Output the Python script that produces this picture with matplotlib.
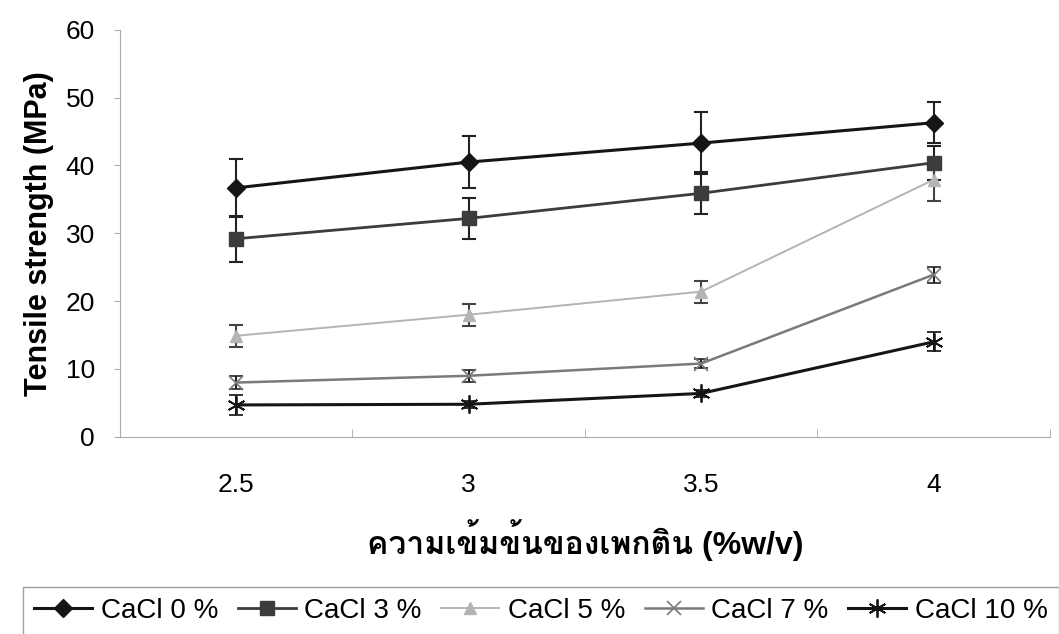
import numpy as np
import matplotlib
matplotlib.use("Agg")
import matplotlib.pyplot as plt
from matplotlib import font_manager
from matplotlib.ft2font import FT2Font

# data
pectin = ["2.5", "3", "3.5", "4"]
series_names = ["CaCl 0 %", "CaCl 3 %", "CaCl 5 %", "CaCl 7 %", "CaCl 10 %"]
ts_0 = [36.7, 40.5, 43.3, 46.3]
ts_3 = [29.2, 32.2, 35.9, 40.4]
ts_5 = [14.9, 18.0, 21.4, 37.9]
ts_7 = [8.0, 9.0, 10.8, 23.9]
ts_10 = [4.7, 4.8, 6.4, 14.0]
err_0 = [4.3, 3.8, 4.6, 3.0]
err_3 = [3.4, 3.0, 3.1, 2.5]
err_5 = [1.6, 1.6, 1.6, 3.2]
err_7 = [1.0, 0.9, 0.6, 1.2]
err_10 = [1.5, 0.5, 0.5, 1.4]


def find_thai_font():
    for f in font_manager.fontManager.ttflist:
        try:
            if ord('ค') in FT2Font(f.fname).get_charmap():
                return f.name
        except Exception:
            pass
    return None


thai = find_thai_font()
fams = ['Liberation Sans'] + ([thai] if thai else []) + ['DejaVu Sans']
plt.rcParams['font.family'] = fams

fig = plt.figure(figsize=(10.59, 6.34), dpi=100)
ax = fig.add_axes([0.1133, 0.311, 0.878, 0.642])

x = np.arange(len(pectin))
styles = [
    dict(color='#151515', marker='D', ms=9, lw=2.2),
    dict(color='#3c3c3c', marker='s', ms=10, lw=2.0),
    dict(color='#b4b4b4', marker='^', ms=9, lw=1.4),
    dict(color='#7a7a7a', marker='x', ms=10, lw=1.8, mew=1.2),
    dict(color='#151515', marker=(6, 2, 0), ms=13, lw=2.2, mew=1.3),
]
values = [ts_0, ts_3, ts_5, ts_7, ts_10]
errors = [err_0, err_3, err_5, err_7, err_10]

handles = []
for name, v, e, st in zip(series_names, values, errors, styles):
    h = ax.errorbar(x, v, yerr=e, label=name, capsize=5, elinewidth=1.5,
                    capthick=1.5, ecolor='#222222' if st['color'] != '#b4b4b4' else '#444444',
                    **st)
    handles.append(h[0])

ax.set_xlim(-0.5, 3.5)
ax.set_ylim(0, 60)
ax.set_yticks(np.arange(0, 61, 10))
ax.set_xticks(x)
ax.set_xticklabels(pectin)
ax.set_xticks(np.arange(-0.5, 3.6, 1.0), minor=True)
ax.tick_params(axis='x', which='major', length=0, pad=26, labelsize=19)
ax.tick_params(axis='x', which='minor', length=6, direction='in', color='#aaaaaa')
ax.tick_params(axis='y', length=4, color='#aaaaaa', labelsize=19, pad=14)
for s in ['top', 'right']:
    ax.spines[s].set_visible(False)
for s in ['left', 'bottom']:
    ax.spines[s].set_color('#aaaaaa')

ax.set_ylabel('Tensile strength (MPa)', fontsize=22, fontweight='bold', labelpad=8)
ax.set_xlabel('ความเข้มข้นของเพกติน (%w/v)', fontsize=23, fontweight='bold', labelpad=16)

leg = fig.legend(handles=handles, labels=series_names, loc='upper left',
                 bbox_to_anchor=(23 / 1059, 1 - 587 / 634),
                 ncol=5, fontsize=20, frameon=True, fancybox=False,
                 handlelength=2.1, handletextpad=0.3, columnspacing=0.7,
                 borderaxespad=0, borderpad=0.4)
leg.get_frame().set_edgecolor('#888888')
leg.get_frame().set_linewidth(1.0)

fig.savefig('out.png', dpi=100)
